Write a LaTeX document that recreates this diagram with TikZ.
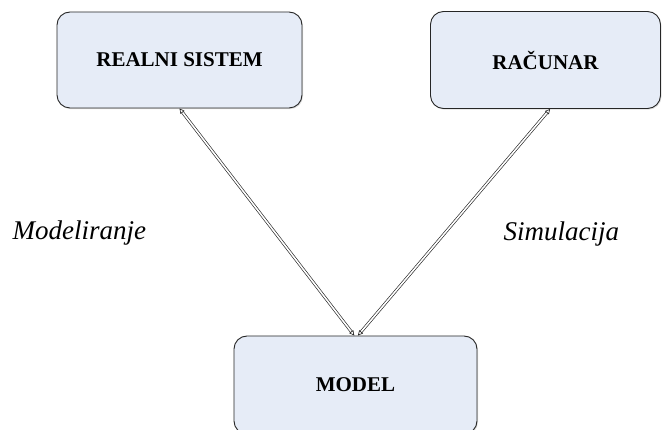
\documentclass[tikz,border=0pt]{standalone}
\usepackage{fontspec}
\setmainfont{Liberation Serif}
\usetikzlibrary{calc,arrows.meta,shadows}
\definecolor{boxfill}{HTML}{E6ECF7}
\tikzset{
  sysbox/.style={draw=black!85, line width=0.9pt, fill=boxfill, rounded corners=13pt,
    drop shadow={opacity=0.25, shadow xshift=1pt, shadow yshift=-1.2pt},
    font=\fontsize{21}{23}\selectfont\bfseries, inner sep=0pt},
  link/.style={double=white, draw=black!85, line width=0.65pt, double distance=1.6pt,
    {Triangle[open,length=5pt,width=5pt]}-{Triangle[open,length=5pt,width=5pt]}},
  phase/.style={font=\fontsize{27}{29}\selectfont\itshape}
}
\begin{document}
\begin{tikzpicture}[x=1pt,y=-1pt]
\useasboundingbox (0,0) rectangle (662,430);

\node [sysbox, minimum width=245pt, minimum height=96pt] (realni) at (179.5,60) {REALNI SISTEM};
\node [sysbox, minimum width=230pt, minimum height=97pt] (racunar) at (545.5,60) {RAČUNAR};
\node [sysbox, minimum width=243pt, minimum height=98pt] (model) at (355.5,385) {MODEL};

\draw [link] (realni.south) -- ($(model.north west)!0.495!(model.north east)$);
\draw [link] ($(racunar.south west)!0.52!(racunar.south east)$) -- ($(model.north west)!0.51!(model.north east)$);

\node [phase, anchor=base west] (modeliranje) at (9,240) {Modeliranje};
\node [phase, anchor=base west] (simulacija) at (500,241) {Simulacija};
\end{tikzpicture}
\end{document}
